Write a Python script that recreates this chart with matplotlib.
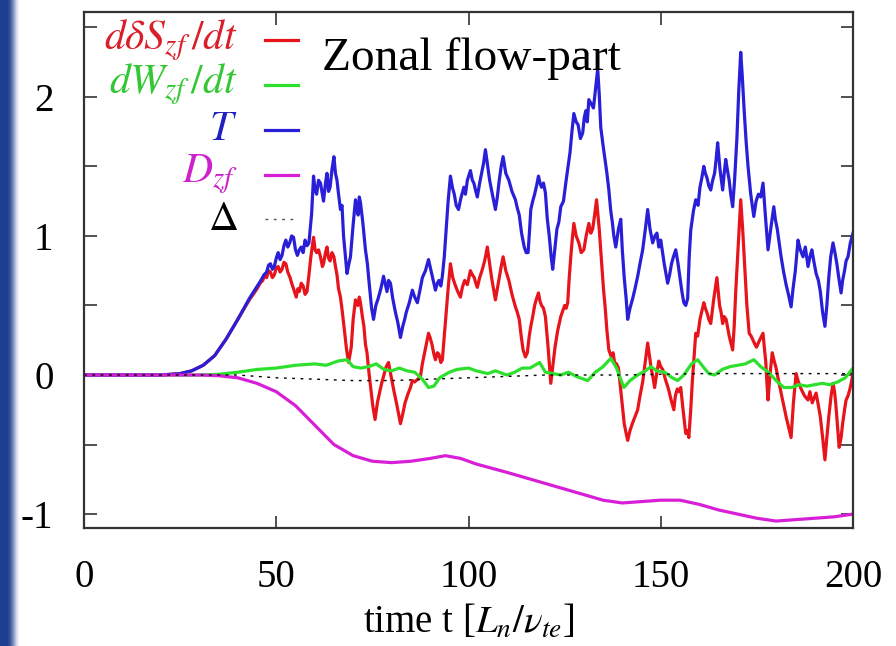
import numpy as np
import matplotlib
matplotlib.use("Agg")
import matplotlib.pyplot as plt
from matplotlib.lines import Line2D

plt.rcParams['font.family'] = ['Liberation Serif', 'DejaVu Serif']
plt.rcParams['mathtext.fontset'] = 'stix'

# --- data ----------------------------------------------------------------
# T (blue)
t_T = [0, 10, 20, 25, 28, 31, 34, 37, 40, 43,
       46, 46.8, 47.5, 48, 48.5, 49, 49.5, 50, 50.5, 51, 51.5, 52, 52.5, 53,
       53.5, 54, 54.5, 55, 55.5, 56, 56.5, 57, 57.5, 58, 58.5, 59.2, 59.7, 60.1,
       60.5, 61, 61.5, 62, 62.3, 62.8, 63.2, 63.6, 64, 64.5, 65, 65.4, 65.8,
       66.2, 66.7, 67.1, 67.5, 68, 68.4, 68.9, 69.3, 69.9, 70.6, 71, 71.3, 71.6,
       71.9, 72.5, 73.2, 73.7, 74.2, 74.8, 75.3, 75.9, 76.5, 77.2, 77.9, 78.3,
       78.8, 79.2, 79.7, 80.3, 81, 81.6, 82.3, 82.9, 83.4, 83.8, 84.6, 85.4, 86,
       86.7, 87.3, 88, 88.8, 89.6, 90, 90.5, 91, 91.4, 91.9, 92.3, 92.8, 93.2,
       93.7, 94.2, 94.7, 95.3, 95.8, 96.3, 96.8, 97.4, 98, 98.8, 99.2, 99.7,
       100.5, 101, 101.4, 101.9, 102.3, 102.9, 103.4, 103.9, 104.4, 104.9, 105.5,
       106.2, 107, 107.5, 108, 108.5, 109, 109.7, 110.5, 111.3, 112.2, 112.7,
       113.2, 113.8, 114.5, 115, 115.5, 115.9, 116.2, 116.7, 117.2, 117.7, 118.2,
       118.6, 119, 119.5, 120, 120.5, 121, 121.5, 121.9, 122.5, 123, 123.5, 124,
       124.7, 125.3, 125.9, 126.4, 126.9, 127.4, 128, 128.5, 129.1, 129.7, 130.1,
       130.5, 130.9, 131.3, 131.9, 132.5, 133, 133.6, 134, 134.4, 135, 135.5,
       136, 136.5, 137, 137.4, 137.8, 138.3, 139, 139.6, 140, 140.5, 141, 141.4,
       142, 142.7, 143.3, 144, 144.6, 145.3, 146, 146.6, 147.2, 147.9, 148.5,
       149, 149.5, 150, 150.9, 151.8, 152.3, 152.8, 153.3, 153.9, 154.5, 155,
       155.5, 156, 156.5, 157, 157.4, 157.8, 158.5, 159.1, 159.7, 160.2, 160.7,
       161.2, 161.6, 162, 162.5, 163, 163.5, 164, 164.4, 164.8, 165.4, 166.1,
       166.5, 166.9, 167.3, 167.8, 168.2, 168.7, 169.2, 169.8, 170.3, 170.8,
       171.2, 171.7, 172.2, 172.7, 173.4, 174.2, 174.8, 175.4, 176, 176.6, 177.2,
       177.9, 178.6, 179.4, 179.8, 180.3, 180.8, 181.3, 181.9, 182.6, 183.2,
       183.9, 184.4, 185, 185.7, 186.3, 187, 187.6, 188.3, 188.8, 189.3, 189.8,
       190.4, 191, 191.5, 192.1, 192.7, 193.2, 193.7, 194.2, 194.8, 195.3, 195.8,
       196.3, 196.9, 197.3, 197.8, 198.2, 198.7, 199.3, 200]
T = [0, 0, 0, 0.01, 0.03, 0.07, 0.14, 0.26, 0.40, 0.55,
     0.68, 0.72, 0.74, 0.79, 0.80, 0.76, 0.78, 0.84, 0.88, 0.83, 0.86, 0.93,
     0.97, 0.92, 0.95, 1.00, 0.99, 0.90, 0.86, 0.90, 0.92, 0.88, 0.97, 0.93,
     0.95, 1.16, 1.43, 1.33, 1.30, 1.40, 1.38, 1.30, 1.25, 1.38, 1.45, 1.32,
     1.35, 1.48, 1.57, 1.45, 1.40, 1.30, 1.19, 1.22, 1.00, 0.85, 0.73, 0.80,
     0.85, 1.05, 1.26, 1.20, 1.15, 1.28, 1.24, 1.10, 0.90, 0.80, 0.65, 0.48,
     0.40, 0.50, 0.55, 0.62, 0.71, 0.66, 0.60, 0.68, 0.66, 0.55, 0.45, 0.38,
     0.27, 0.35, 0.40, 0.45, 0.52, 0.61, 0.56, 0.52, 0.60, 0.70, 0.75, 0.83,
     0.78, 0.72, 0.66, 0.61, 0.66, 0.68, 0.64, 0.71, 0.85, 1.05, 1.25, 1.43,
     1.35, 1.30, 1.22, 1.19, 1.27, 1.35, 1.30, 1.40, 1.47, 1.40, 1.38, 1.32,
     1.28, 1.38, 1.45, 1.52, 1.62, 1.52, 1.40, 1.30, 1.19, 1.28, 1.40, 1.50,
     1.57, 1.45, 1.40, 1.32, 1.26, 1.20, 1.15, 1.02, 0.92, 0.88, 0.88, 1.05,
     1.19, 1.25, 1.30, 1.36, 1.43, 1.38, 1.35, 1.38, 1.31, 1.12, 1.00, 0.85,
     0.76, 0.92, 1.05, 1.10, 1.21, 1.25, 1.38, 1.50, 1.60, 1.75, 1.88, 1.82,
     1.80, 1.70, 1.74, 1.85, 1.90, 1.82, 1.98, 1.95, 1.92, 2.05, 2.20, 2.02,
     1.78, 1.65, 1.55, 1.45, 1.33, 1.18, 1.10, 1.00, 0.92, 1.05, 1.12, 0.90,
     0.70, 0.55, 0.40, 0.48, 0.55, 0.62, 0.71, 0.80, 0.90, 1.05, 1.19, 1.05,
     0.95, 1.00, 1.02, 0.92, 0.97, 0.80, 0.66, 0.72, 0.80, 0.85, 0.90, 0.80,
     0.70, 0.60, 0.52, 0.50, 0.55, 0.85, 1.04, 1.18, 1.26, 1.22, 1.35, 1.42,
     1.50, 1.45, 1.42, 1.36, 1.33, 1.40, 1.45, 1.55, 1.67, 1.48, 1.33, 1.45,
     1.55, 1.48, 1.40, 1.30, 1.21, 1.40, 1.70, 2.05, 2.32, 2.15, 1.90, 1.68,
     1.50, 1.30, 1.14, 1.25, 1.30, 1.28, 1.38, 1.15, 0.90, 1.05, 1.21, 1.12,
     1.05, 0.95, 0.85, 0.75, 0.65, 0.58, 0.49, 0.62, 0.75, 0.97, 0.90, 0.85,
     0.92, 0.78, 0.85, 0.90, 0.82, 0.73, 0.68, 0.60, 0.45, 0.35, 0.50, 0.70,
     0.85, 0.95, 0.88, 0.80, 0.70, 0.59, 0.68, 0.75, 0.82, 0.85, 0.95, 1.02]

# d(delta S_zf)/dt (red)
t_S = [0, 10, 20, 25, 28, 31, 34, 37, 40, 43,
       45, 45.8, 46.5, 47, 47.5, 48, 48.5, 49, 49.5, 50, 50.5, 51, 51.5, 52,
       52.5, 53, 53.6, 54, 54.5, 55.2, 55.6, 56, 56.5, 57, 57.5, 58, 58.5, 59,
       59.7, 60.1, 60.5, 61, 61.5, 62, 62.3, 62.8, 63.2, 63.6, 64, 64.5, 65,
       65.4, 65.8, 66.2, 66.7, 67.2, 67.8, 68.3, 68.8, 69.2, 69.5, 70, 70.6,
       71.2, 71.6, 71.9, 72.4, 72.8, 73.2, 73.6, 74.1, 74.6, 75.1, 75.7, 76.3,
       77, 77.5, 78, 78.6, 79.2, 79.8, 80.5, 81.4, 82.3, 82.9, 83.5, 84.2, 84.9,
       85.4, 86, 86.8, 87.5, 88, 88.5, 89, 89.6, 90, 90.5, 91, 91.4, 91.9, 92.3,
       92.8, 93.2, 93.7, 94.2, 94.7, 95.3, 95.9, 96.5, 97.2, 97.9, 98.4, 99,
       99.7, 100.5, 101, 101.5, 101.9, 102.3, 102.9, 103.5, 104.2, 104.9, 105.4,
       106, 106.5, 107, 107.5, 108, 108.5, 109, 109.7, 110.5, 111.3, 112.2,
       112.7, 113.2, 113.7, 114.2, 114.8, 115.3, 115.8, 116.2, 116.7, 117.2,
       117.7, 118.2, 118.6, 119, 119.5, 120, 120.7, 121.4, 122, 122.5, 123.2,
       124, 124.5, 125, 125.4, 125.8, 126.2, 126.6, 127, 127.4, 128, 128.7,
       129.3, 130, 130.6, 131.3, 131.8, 132.3, 132.8, 133.3, 134, 134.7, 135.1,
       135.5, 136, 136.5, 136.9, 137.3, 137.6, 138, 138.5, 139, 139.6, 140,
       140.5, 141, 141.4, 142, 142.6, 143.3, 144, 144.6, 145.3, 146, 146.6, 147,
       147.5, 148, 148.4, 149, 149.5, 150, 150.5, 151.3, 152, 152.7, 153.4,
       153.8, 154.3, 154.8, 155.2, 155.8, 156.5, 157, 157.3, 157.8, 158.2,
       158.7, 159.1, 159.6, 160.2, 160.7, 161.2, 161.6, 162, 162.5, 163, 163.8,
       164.6, 165.3, 165.7, 166.1, 166.5, 167, 167.8, 168.7, 169.1, 169.5,
       170.2, 170.8, 171.3, 171.8, 172.4, 173, 173.5, 174, 174.5, 174.9, 175.7,
       176.6, 177, 177.3, 177.6, 177.9, 178.4, 179, 179.5, 180, 180.7, 181.3,
       182, 182.6, 183.3, 183.9, 184.5, 185.2, 185.8, 186.5, 187.4, 188.3,
       188.8, 189.4, 190.4, 191, 191.5, 192.1, 192.7, 193.2, 193.7, 194.3,
       194.8, 195.2, 195.5, 196, 196.4, 196.9, 197.3, 197.8, 198.2, 198.7,
       199.2, 199.6, 200]
S = [0, 0, 0, 0.01, 0.03, 0.07, 0.14, 0.26, 0.40, 0.54,
     0.62, 0.66, 0.68, 0.72, 0.70, 0.75, 0.74, 0.70, 0.72, 0.77, 0.78, 0.74,
     0.76, 0.81, 0.80, 0.74, 0.70, 0.66, 0.62, 0.56, 0.62, 0.60, 0.66, 0.64,
     0.58, 0.60, 0.72, 0.85, 0.99, 0.90, 0.88, 0.90, 0.85, 0.78, 0.80, 0.88,
     0.92, 0.84, 0.82, 0.88, 0.85, 0.78, 0.72, 0.62, 0.56, 0.45, 0.30, 0.18,
     0.09, 0.15, 0.20, 0.40, 0.54, 0.50, 0.56, 0.52, 0.42, 0.35, 0.22, 0.16,
     0.02, -0.10, -0.22, -0.32, -0.20, -0.11, -0.05, 0.00, 0.06, 0.09, 0.00,
     -0.10, -0.22, -0.35, -0.28, -0.20, -0.14, -0.09, -0.04, -0.05, -0.03,
     -0.01, 0.08, 0.15, 0.22, 0.30, 0.27, 0.22, 0.15, 0.11, 0.16, 0.15, 0.09,
     0.11, 0.28, 0.45, 0.62, 0.80, 0.70, 0.65, 0.60, 0.56, 0.63, 0.68, 0.65,
     0.75, 0.72, 0.70, 0.66, 0.63, 0.70, 0.75, 0.82, 0.92, 0.82, 0.70, 0.62,
     0.54, 0.62, 0.70, 0.78, 0.85, 0.75, 0.68, 0.58, 0.49, 0.45, 0.40, 0.28,
     0.18, 0.13, 0.16, 0.28, 0.35, 0.42, 0.50, 0.55, 0.59, 0.53, 0.50, 0.48,
     0.42, 0.20, -0.06, 0.08, 0.20, 0.32, 0.42, 0.46, 0.50, 0.48, 0.52, 0.70,
     0.85, 0.98, 1.09, 1.00, 0.95, 0.88, 0.90, 1.00, 1.09, 1.02, 1.05, 1.15,
     1.26, 1.05, 0.78, 0.62, 0.50, 0.32, 0.18, 0.15, 0.12, 0.16, 0.09, 0.08,
     0.05, -0.11, -0.22, -0.35, -0.42, -0.47, -0.40, -0.35, -0.30, -0.25,
     -0.15, -0.05, 0.10, 0.23, 0.15, 0.05, -0.02, -0.09, 0.02, 0.10, 0.06,
     0.04, -0.04, -0.10, -0.18, -0.25, -0.15, -0.10, -0.12, -0.09, -0.25,
     -0.42, -0.40, -0.45, -0.25, -0.05, 0.15, 0.30, 0.28, 0.40, 0.46, 0.52,
     0.48, 0.45, 0.40, 0.37, 0.55, 0.70, 0.50, 0.45, 0.37, 0.42, 0.40, 0.28,
     0.18, 0.35, 0.60, 0.95, 1.26, 1.05, 0.80, 0.50, 0.30, 0.28, 0.25, 0.22,
     0.20, 0.25, 0.30, 0.18, 0.10, -0.05, -0.18, 0.00, 0.16, 0.10, 0.05,
     -0.05, -0.13, -0.22, -0.30, -0.38, -0.45, -0.20, 0.01, -0.05, -0.10,
     -0.15, -0.18, -0.12, -0.20, -0.13, -0.22, -0.30, -0.45, -0.61, -0.45,
     -0.30, -0.15, -0.06, -0.12, -0.20, -0.38, -0.52, -0.45, -0.35, -0.25,
     -0.18, -0.15, -0.10, -0.05, 0.01]

# dW_zf/dt (green)
t_W = [0, 30, 35, 40, 45, 50, 55, 60, 63, 66, 68.4, 70, 72, 74, 76, 78, 80, 82,
       84, 86, 88, 89.6, 91, 92.5, 95, 97, 100, 102, 105, 107, 110, 112, 114,
       116, 118.5, 120, 122, 124, 126, 128, 131, 133, 135, 137, 138.5, 140.4,
       142, 144, 146, 147.4, 149, 151, 153, 154.4, 156, 158, 159.6, 161, 162.5,
       164, 166, 168, 170, 172, 174.2, 176, 178, 180, 182, 184, 186, 188, 190,
       192, 194, 196, 198, 200]
W = [0, 0, 0.005, 0.02, 0.04, 0.05, 0.07, 0.08, 0.07, 0.10, 0.11, 0.06, 0.05,
     0.06, 0.08, 0.04, 0.03, 0.05, 0.03, 0.02, -0.03, -0.09, -0.08, -0.02, 0.02,
     0.04, 0.05, 0.03, 0.01, 0.03, 0.0, 0.02, 0.05, 0.05, 0.09, 0.02, 0.01, 0.0,
     0.02, -0.01, -0.04, 0.02, 0.06, 0.12, 0.05, -0.09, -0.04, 0.0, 0.03, 0.06,
     0.03, 0.02, -0.02, -0.04, 0.0, 0.08, 0.11, 0.06, 0.01, 0.0, 0.04, 0.06,
     0.07, 0.08, 0.11, 0.06, 0.02, -0.04, -0.09, -0.09, -0.07, -0.08, -0.07,
     -0.06, -0.07, -0.05, -0.02, 0.05]

# D_zf (magenta)
t_D = [0, 30, 35, 40, 45, 50, 55, 60, 65, 70, 75, 80, 85, 90, 94, 98, 102, 106,
       110, 115, 120, 125, 130, 135, 140, 145, 150, 155, 160, 165, 170, 175, 180,
       185, 190, 195, 200]
D = [0, 0, -0.005, -0.02, -0.06, -0.12, -0.22, -0.36, -0.50, -0.58, -0.62,
     -0.63, -0.62, -0.60, -0.58, -0.60, -0.64, -0.67, -0.70, -0.74, -0.78,
     -0.82, -0.86, -0.90, -0.92, -0.91, -0.90, -0.90, -0.93, -0.97, -1.00,
     -1.03, -1.05, -1.04, -1.03, -1.02, -1.00]

# Delta (black dotted)
t_Delta = [0, 40, 45, 50, 60, 70, 80, 90, 100, 120, 140, 160, 180, 200]
Delta = [0, 0, -0.01, -0.02, -0.03, -0.04, -0.04, -0.03, -0.02, 0.0, 0.0,
         0.01, 0.01, 0.01]

x_ticks = [0, 50, 100, 150, 200]
y_ticks = [-1, -0.5, 0, 0.5, 1, 1.5, 2, 2.5]

series = [
    (t_S, S, '#e8141c', '#d8202a', r'$d\delta S_{zf}\,/dt$'),
    (t_W, W, '#2ee02e', '#33c833', r'$dW_{zf}\,/dt$'),
    (t_T, T, '#2a1fd8', '#2020c0', r'$T$'),
    (t_D, D, '#d81fd8', '#cc22cc', r'$D_{zf}$'),
]

# --- figure --------------------------------------------------------------
fig = plt.figure(figsize=(8.96, 6.46), dpi=100)

# blue slide strip on the left edge
strip = fig.add_axes([0, 0, 24 / 896, 1])
grad = np.array([[0.0, 0.0, 0.0, 0.15, 0.45, 0.8, 1.0, 1.0]])
strip.imshow(grad, aspect='auto', cmap=matplotlib.colors.LinearSegmentedColormap.from_list(
    'strip', ['#1c3f91', '#ffffff']), interpolation='bilinear', vmin=0, vmax=1)
strip.set_axis_off()

ax = fig.add_axes([84 / 896, 1 - 528 / 646, 769 / 896, 516 / 646])

for tt, vv, c, _, _ in series:
    ax.plot(tt, vv, color=c, lw=2.3)
ax.plot(t_Delta, Delta, color='black', lw=1.0, ls=(0, (2, 4)))

ax.set_xlim(0, 200)
ax.set_ylim(-1.1, 2.61)
ax.set_xticks(x_ticks)
ax.set_yticks(y_ticks)
ax.set_yticklabels([f'{v:g}' if v == int(v) else '' for v in y_ticks])
ax.tick_params(direction='in', length=9, width=1.2, top=True, right=True,
               labelsize=28, color='#333333')
ax.tick_params(axis='x', pad=22)
ax.tick_params(axis='y', pad=22)
for sp in ax.spines.values():
    sp.set_linewidth(1.6)
    sp.set_color('#333333')

ax.set_xlabel(r'time t [$L_n/\nu_{te}$]', fontsize=28, labelpad=6)

# legend: labels right-aligned, short line samples to the right
y0, dy = 0.946, 0.087
for i, (_, _, c, tc, lab) in enumerate(series):
    yy = y0 - i * dy
    ax.text(0.200, yy, lab, color=tc, fontsize=30, ha='right', va='center',
            transform=ax.transAxes)
    ax.add_line(Line2D([0.235, 0.278], [yy, yy], color=c, lw=2.3,
                       transform=ax.transAxes))
yy = y0 - 4 * dy
ax.text(0.200, yy, r'$\Delta$', color='black', fontsize=30, ha='right',
        va='center', transform=ax.transAxes)
ax.add_line(Line2D([0.235, 0.278], [yy, yy], color='#555555', lw=1.0,
                   ls=(0, (2, 4)), transform=ax.transAxes))

ax.text(0.31, 0.888, 'Zonal flow-part', fontsize=34, ha='left', va='baseline',
        transform=ax.transAxes)

fig.savefig('out.png', dpi=100)
